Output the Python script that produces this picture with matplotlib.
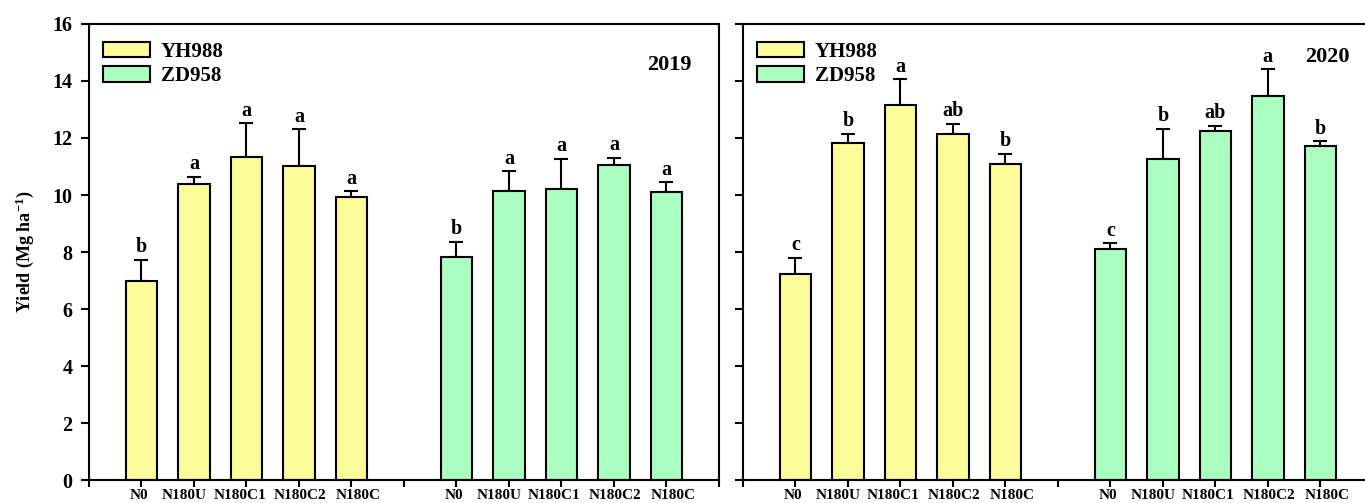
import numpy as np
import matplotlib
matplotlib.use('Agg')
import matplotlib.pyplot as plt
import matplotlib.transforms as mtransforms
from matplotlib.patches import Patch

plt.rcParams['font.family'] = ['Liberation Serif', 'DejaVu Serif']
plt.rcParams['font.weight'] = 'bold'
plt.rcParams['mathtext.fontset'] = 'custom'
plt.rcParams['mathtext.rm'] = 'Liberation Serif:bold'
plt.rcParams['mathtext.bf'] = 'Liberation Serif:bold'
plt.rcParams['mathtext.it'] = 'Liberation Serif:bold'

# 处理与品种
treatments = ['N0', 'N180U', 'N180C1', 'N180C2', 'N180C']
cultivars = ['YH988', 'ZD958']
years = ['2019', '2020']

# 2019 产量及标准误
yh_2019 = [7.00, 10.38, 11.34, 11.02, 9.92]
yh_2019_err = [0.72, 0.26, 1.17, 1.28, 0.21]
yh_2019_sig = ['b', 'a', 'a', 'a', 'a']
zd_2019 = [7.84, 10.14, 10.22, 11.04, 10.11]
zd_2019_err = [0.51, 0.69, 1.05, 0.26, 0.33]
zd_2019_sig = ['b', 'a', 'a', 'a', 'a']

# 2020 产量及标准误
yh_2020 = [7.24, 11.81, 13.15, 12.15, 11.10]
yh_2020_err = [0.54, 0.33, 0.91, 0.35, 0.35]
yh_2020_sig = ['c', 'b', 'a', 'ab', 'b']
zd_2020 = [8.09, 11.25, 12.25, 13.47, 11.72]
zd_2020_err = [0.21, 1.08, 0.17, 0.94, 0.16]
zd_2020_sig = ['c', 'b', 'ab', 'a', 'b']

COLORS = {'YH988': '#FCFC9A', 'ZD958': '#A9FEC0'}
# 横轴标签微调（点），避免相邻标签挤在一起
LABEL_SHIFT = [-1.5, -7, -5, 0.5, 5]

panels = [
    (years[0], [(yh_2019, yh_2019_err, yh_2019_sig), (zd_2019, zd_2019_err, zd_2019_sig)]),
    (years[1], [(yh_2020, yh_2020_err, yh_2020_sig), (zd_2020, zd_2020_err, zd_2020_sig)]),
]

fig = plt.figure(figsize=(13.65, 5.03), dpi=100)
ax_left = fig.add_axes([0.0652, 0.0457, 0.4615, 0.9066])
ax_right = fig.add_axes([0.5443, 0.0457, 0.4615, 0.9066])
year_pos = {'2019': (0.922, 0.91), '2020': (0.927, 0.928)}

for ax, (year, series) in zip([ax_left, ax_right], panels):
    tick_pos = []
    tick_lab = []
    for g, (vals, errs, sig) in enumerate(series):
        x = np.arange(len(treatments)) + g * (len(treatments) + 1)
        ax.bar(x, vals, width=0.6, color=COLORS[cultivars[g]], edgecolor='black',
               linewidth=1.5, zorder=2)
        ax.errorbar(x, vals, yerr=[np.zeros(len(vals)), errs], fmt='none',
                    ecolor='black', elinewidth=1.5, capsize=5, capthick=1.5, zorder=1)
        for xi, v, e, s in zip(x, vals, errs, sig):
            ax.annotate(s, (xi, v + e), xytext=(0, 2), textcoords='offset points',
                        ha='center', va='bottom', fontsize=14.5, fontweight='bold')
        tick_pos.extend(x)
        tick_lab.extend(treatments)

    ax.set_xlim(-1, 11)
    ax.set_ylim(0, 16)
    ax.set_xticks(tick_pos)
    ax.set_xticklabels(tick_lab, fontsize=11, fontweight='bold')
    ax.set_xticks([-1, 5, 11], minor=True)
    ax.tick_params(axis='x', which='both', direction='out', length=5, width=1.5, pad=1.5)
    for i, lab in enumerate(ax.get_xticklabels()):
        dx = LABEL_SHIFT[i % len(treatments)] / 72
        lab.set_transform(lab.get_transform() +
                          mtransforms.ScaledTranslation(dx, 0, fig.dpi_scale_trans))
    ax.set_yticks(np.arange(0, 17, 2))
    ax.tick_params(axis='y', direction='out', length=6, width=1.5, labelsize=14.5, pad=6)
    for sp in ax.spines.values():
        sp.set_linewidth(1.5)

    handles = [Patch(facecolor=COLORS[c], edgecolor='black', linewidth=1.5, label=c)
               for c in cultivars]
    ax.legend(handles=handles, loc='upper left', bbox_to_anchor=(0.0, 0.99), frameon=False,
              prop={'size': 15, 'weight': 'bold'}, handlelength=2.3, handleheight=0.75,
              handletextpad=0.5, labelspacing=0.2, borderaxespad=0.25)
    ax.text(*year_pos[year], year, transform=ax.transAxes, ha='center', va='center',
            fontsize=16, fontweight='bold')

ax_left.set_ylabel('Yield (Mg ha$^{-1}$)', fontsize=13, fontweight='bold', labelpad=12)
ax_right.set_yticklabels([])

fig.savefig('out.png', dpi=100)
